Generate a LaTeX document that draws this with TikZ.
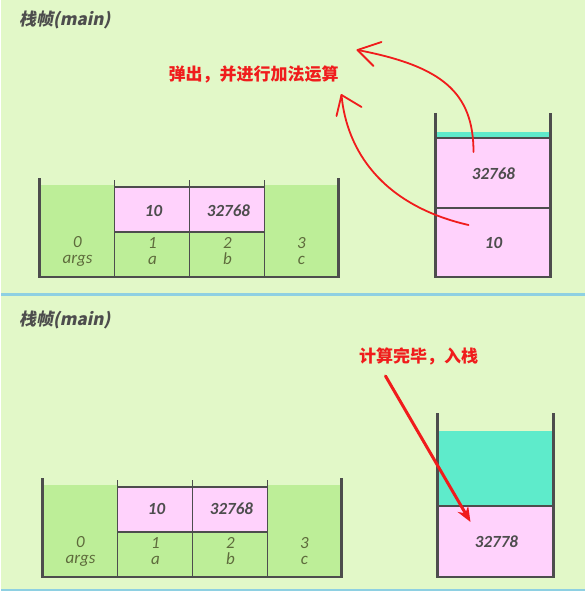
\documentclass[tikz,border=0pt]{standalone}
\usepackage{fontspec}
\setmainfont{Carlito}
\newfontfamily\cjk{Noto Sans CJK SC}
\newfontfamily\cjkslant{Noto Sans CJK SC}[FakeSlant=0.2]
\usetikzlibrary{arrows.meta}
\definecolor{bggreen}{HTML}{E2F8C8}
\definecolor{slotgreen}{HTML}{BDEE98}
\definecolor{valpink}{HTML}{FFD2FC}
\definecolor{emptycyan}{HTML}{5EEBCB}
\definecolor{wallgray}{HTML}{4D4D4D}
\definecolor{inkred}{HTML}{F01C1C}
\definecolor{seablue}{HTML}{8ED0E2}
\definecolor{olive}{HTML}{5E6B3C}
\tikzset{wall/.style = {draw=wallgray, line width=2.6}}
\tikzset{divider/.style = {draw=wallgray, line width=1.3}}
\tikzset{value/.style = {font=\fontsize{17}{17}\selectfont\bfseries\itshape, text=wallgray}}
\tikzset{slot/.style = {font=\fontsize{17}{16}\selectfont\itshape, text=olive, align=center, inner sep=0}}
\tikzset{framename/.style = {font=\cjkslant\bfseries\fontsize{17}{17}\selectfont, text=wallgray, anchor=west}}
\tikzset{note/.style = {font=\cjk\bfseries\fontsize{17}{17}\selectfont, text=inkred}}
\tikzset{redink/.style = {draw=inkred, line width=1.8, line cap=round, line join=round}}

\begin{document}
\begin{tikzpicture}[x=1pt, y=-1pt]
    \fill[bggreen] (0,0) rectangle (583,591);
    \draw[seablue, line width=3] (0,294) -- (583,294);
    \draw[seablue, line width=2] (0,590) -- (583,590);

    % local variable table, before the add
    \node[framename] (frame1) at (14,20) {栈帧(main)};
    \fill[slotgreen] (38,185) rectangle (113,277);
    \fill[slotgreen] (113,232) rectangle (263,277);
    \fill[slotgreen] (263,185) rectangle (337,277);
    \fill[valpink] (113,187) rectangle (263,232);
    \draw[divider] (113,187) -- (263,187);
    \draw[divider] (113,232) -- (263,232);
    \foreach \x in {113,188,263}
      \draw[divider] (\x,180) -- (\x,277);
    \draw[wall] (38,178) -- (38,277) -- (337,277) -- (337,178);
    \node[value] (ta) at (152,211) {10};
    \node[value] (tb) at (227,211) {32768};
    \node[slot] (t0) at (76,251) {0\\args};
    \node[slot] (t1) at (151,251) {1\\a};
    \node[slot] (t2) at (226,251) {2\\b};
    \node[slot] (t3) at (300,251) {3\\c};

    % operand stack, before the add
    \fill[valpink] (434,138) rectangle (549,277);
    \fill[emptycyan] (434,132) rectangle (549,138);
    \draw[divider] (434,138) -- (549,138);
    \draw[divider] (434,208) -- (549,208);
    \draw[wall] (434,113) -- (434,277) -- (549,277) -- (549,113);
    \node[value] (stop) at (492,174) {32768};
    \node[value] (sbot) at (492,243) {10};

    \node[note] (poptext) at (252,74) {弹出，并进行加法运算};
    \coordinate (popa) at (472,152);
    \coordinate (popa tip) at (356,50);
    \coordinate (popb) at (467,225);
    \coordinate (popb tip) at (340,95);
    \draw[redink] (popa) .. controls (472,92) and (440,66) .. (popa tip);
    \draw[redink] (popa tip) -- ++(24,-8);
    \draw[redink] (popa tip) -- ++(16,16);
    \draw[redink] (popb) .. controls (380,205) and (345,150) .. (popb tip);
    \draw[redink] (popb tip) -- ++(20,12);
    \draw[redink] (popb tip) -- ++(-5,21);

    % local variable table, after the add
    \node[framename] (frame2) at (14,320) {栈帧(main)};
    \begin{scope}[shift={(3,300)}]
      \fill[slotgreen] (38,185) rectangle (113,277);
      \fill[slotgreen] (113,232) rectangle (263,277);
      \fill[slotgreen] (263,185) rectangle (337,277);
      \fill[valpink] (113,187) rectangle (263,232);
      \draw[divider] (113,187) -- (263,187);
      \draw[divider] (113,232) -- (263,232);
      \foreach \x in {113,188,263}
        \draw[divider] (\x,180) -- (\x,277);
      \draw[wall] (38,178) -- (38,277) -- (337,277) -- (337,178);
      \node[value] (ba) at (152,209) {10};
      \node[value] (bb) at (227,209) {32768};
      \node[slot] (b0) at (76,251) {0\\args};
      \node[slot] (b1) at (151,251) {1\\a};
      \node[slot] (b2) at (226,251) {2\\b};
      \node[slot] (b3) at (300,251) {3\\c};
    \end{scope}

    % operand stack, after the add
    \fill[emptycyan] (436,431) rectangle (552,506);
    \fill[valpink] (436,506) rectangle (552,577);
    \draw[divider] (436,506) -- (552,506);
    \draw[wall] (436,413) -- (436,577) -- (552,577) -- (552,413);
    \node[value] (sum) at (495,542) {32778};

    \node[note] (pushtext) at (417,356) {计算完毕，入栈};
    \coordinate (pushfrom) at (384,376);
    \coordinate (pushto) at (469,522);
    \draw[redink, line width=3, -{Stealth[length=15pt, width=12pt]}] (pushfrom) -- (pushto);
  \end{tikzpicture}
\end{document}
